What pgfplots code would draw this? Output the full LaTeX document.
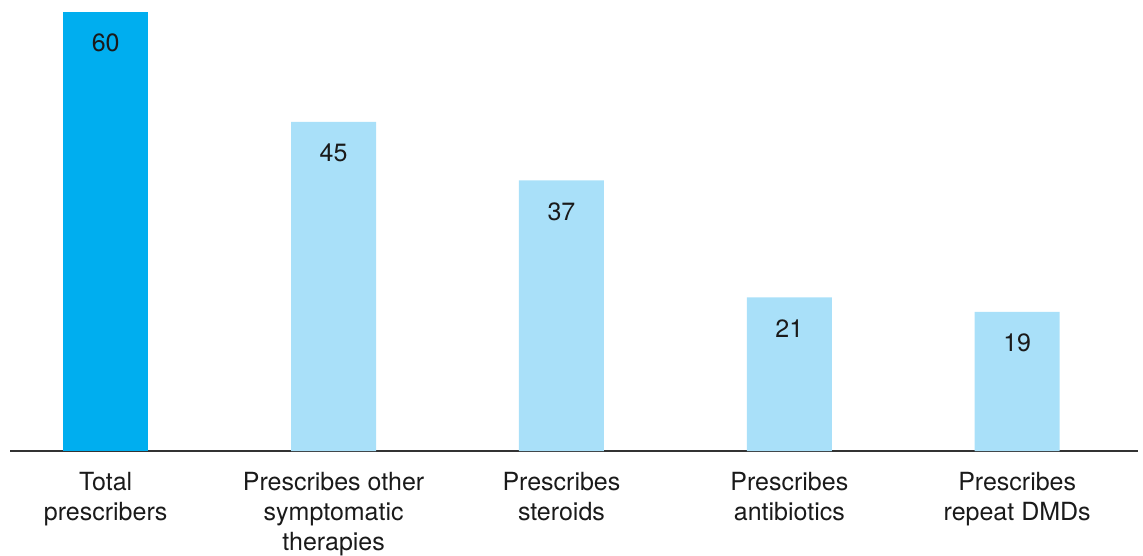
\documentclass[border=0pt]{standalone}
\usepackage{pgfplots}
\pgfplotsset{compat=1.18}
\usepackage{fontspec}
\setmainfont{TeX Gyre Heros}
\definecolor{darkblue}{HTML}{00AEEF}
\definecolor{lightblue}{HTML}{A9E0F9}
\definecolor{txt}{HTML}{1A1A1A}
\begin{document}
\begin{tikzpicture}[x=1pt,y=1pt]
\begin{axis}[
  at={(0,0)}, anchor=south west,
  scale only axis,
  width=1128pt, height=439pt,
  xmin=-0.42, xmax=4.53,
  ymin=0, ymax=60,
  axis x line*=bottom,
  axis y line=none,
  axis line style={line width=2pt, color=black!80},
  xtick={0,1,2,3,4},
  xticklabels={{Total\\prescribers},{Prescribes other\\symptomatic\\therapies},{Prescribes\\steroids},{Prescribes\\antibiotics},{Prescribes\\repeat DMDs}},
  major tick length=0pt,
  xticklabel style={align=center, anchor=north, inner sep=0pt, yshift=-21pt, font=\fontsize{25}{30}\selectfont, text=txt},
  /pgf/number format/assume math mode=true,
  ybar, bar width=85pt, bar shift=0pt,
  nodes near coords,
  nodes near coords style={anchor=north, inner sep=0pt, yshift=-22pt, font=\fontsize{25}{30}\selectfont, text=txt},
  clip=false,
]
\addplot[fill=darkblue, draw=none] coordinates {(0,60)};
\addplot[fill=lightblue, draw=none] coordinates {(1,45) (2,37) (3,21) (4,19)};
\end{axis}
\pgfresetboundingbox
\path[use as bounding box] (-10,-104) rectangle (1133,451);
\end{tikzpicture}
\end{document}
